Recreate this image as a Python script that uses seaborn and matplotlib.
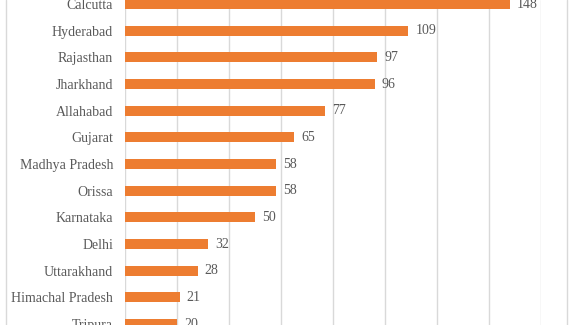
import matplotlib
matplotlib.use("Agg")
import matplotlib.pyplot as plt
import seaborn as sns
import pandas as pd
from matplotlib.lines import Line2D

places = ["Calcutta", "Hyderabad", "Rajasthan", "Jharkhand", "Allahabad", "Gujarat",
          "Madhya Pradesh", "Orissa", "Karnataka", "Delhi", "Uttarakhand",
          "Himachal Pradesh", "Tripura"]
counts = [148, 109, 97, 96, 77, 65, 58, 58, 50, 32, 28, 21, 20]

df = pd.DataFrame({"place": places, "count": counts})

sns.set_style("white")
plt.rcParams["font.family"] = ["Liberation Serif", "DejaVu Serif"]

W, H = 573, 325
fig = plt.figure(figsize=(W / 100, H / 100), dpi=100)
ax = fig.add_axes([125 / W, 0, 416 / W, 1])

sns.barplot(data=df, y="place", x="count", orient="h", color="#ED7D31",
            width=0.37, ax=ax, saturation=1, linewidth=0)

# emulate the cropped view: first bar centre ~4 px from top, last ~324 px
unit = 12 / 320
ax.set_ylim(12 + (H - 324) * unit, -4 * unit)
ax.set_xlim(0, 160)
ax.set_xticks(range(0, 161, 20))
ax.xaxis.grid(True, color="#d9d9d9", linewidth=1)
ax.set_axisbelow(True)
ax.tick_params(axis="x", bottom=False, labelbottom=False)
ax.tick_params(axis="y", left=False, pad=5, labelsize=10, labelcolor="#595959")
ax.set_xlabel("")
ax.set_ylabel("")
for s in ax.spines.values():
    s.set_visible(False)

for c in ax.containers:
    ax.bar_label(c, labels=[str(v) for v in counts], padding=5,
                 fontsize=10, color="#595959")

for xp in (5.5, 566.5):
    fig.add_artist(Line2D([xp / W, xp / W], [0, 1], transform=fig.transFigure,
                          color="#d9d9d9", linewidth=1))

fig.savefig("out.png", dpi=100)
